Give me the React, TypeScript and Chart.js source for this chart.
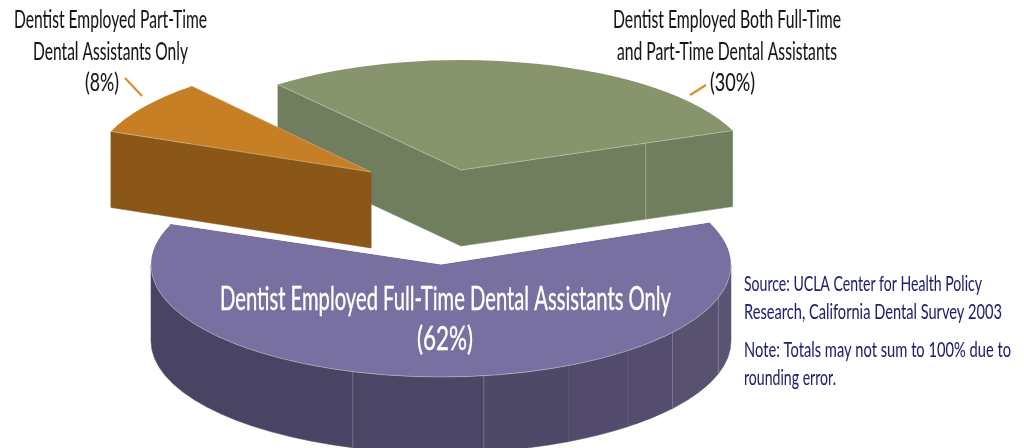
import { useEffect, useRef } from "react";
import { Chart, registerables } from "chart.js";

Chart.register(...registerables);

// Employment of dental assistants among surveyed dentists
const sliceNames = [
  "Dentist Employed Full-Time Dental Assistants Only",
  "Dentist Employed Part-Time Dental Assistants Only",
  "Dentist Employed Both Full-Time and Part-Time Dental Assistants",
];
const sliceShares = [62, 8, 30];

const topColours = ["#7870a0", "#c67f25", "#87946c"];
const wallColours = ["#4c4666", "#8b5718", "#717e5e"];

// Pie projection: the flat pie is squashed to an ellipse and extruded downwards
const PIE_X = 441;
const PIE_Y = 200;
const DEPTH = 76;
const ROTATION = 68;

// Per-slice projection radii and small extra turn, giving each slice its own perspective
const radiusX = [290, 279, 291];
const radiusY = [112, 112, 110];
const turnDeg = [0, 0, 1];

// Exploded position of each slice relative to the pie centre
const shiftX = [0, -70, 20];
const shiftY = [65, -28, -30];
const paintOrder = [2, 1, 0];

// Shaded panels along the rim of the large slice, in degrees around the ellipse
const rimStops = [0, 17, 37, 50, 64, 81.5, 107.7, 180];
const rimShades = ["#5b5374", "#585170", "#544d6e", "#524b6b", "#4f4968", "#4c4666", "#4a4464"];
const rimSeams = [17, 37, 81.5, 107.7];

type Caption = { text: string; x: number; base: number; width: number; size: number; colour: string; bold: number };

const INK = "#16161a";
const NAVY = "#20206e";
const captions: Caption[] = [
  { text: "Dentist Employed Part-Time", x: 14, base: 28, width: 193, size: 25, colour: INK, bold: 0.1 },
  { text: "Dental Assistants Only", x: 33, base: 60, width: 155, size: 25, colour: INK, bold: 0.1 },
  { text: "(8%)", x: 85, base: 91, width: 34, size: 25, colour: INK, bold: 0.1 },
  { text: "Dentist Employed Both Full-Time", x: 613, base: 28, width: 228, size: 25, colour: INK, bold: 0.1 },
  { text: "and Part-Time Dental Assistants", x: 617, base: 60, width: 220, size: 25, colour: INK, bold: 0.1 },
  { text: "(30%)", x: 710, base: 91, width: 45, size: 25, colour: INK, bold: 0.1 },
  { text: "Dentist Employed Full-Time Dental Assistants Only", x: 220, base: 310, width: 451, size: 32, colour: "#ffffff", bold: 0.4 },
  { text: "(62%)", x: 417, base: 350, width: 56, size: 32, colour: "#ffffff", bold: 0.4 },
  { text: "Source: UCLA Center for Health Policy", x: 744, base: 291, width: 238, size: 22, colour: NAVY, bold: 0.05 },
  { text: "Research, California Dental Survey 2003", x: 744, base: 319, width: 258, size: 22, colour: NAVY, bold: 0.05 },
  { text: "Note: Totals may not sum to 100% due to", x: 744, base: 357, width: 267, size: 22, colour: NAVY, bold: 0.05 },
  { text: "rounding error.", x: 744, base: 385, width: 92, size: 22, colour: NAVY, bold: 0.05 },
];

// Short leaders tying the two outer captions to their slices
const leaders = [
  [125, 78, 142, 96],
  [690, 95, 706, 85],
];

const rad = (deg: number) => (deg * Math.PI) / 180;

function quad(ctx: CanvasRenderingContext2D, a: number[], b: number[], colour: string) {
  ctx.beginPath();
  ctx.moveTo(a[0], a[1]);
  ctx.lineTo(b[0], b[1]);
  ctx.lineTo(b[0], b[1] + DEPTH);
  ctx.lineTo(a[0], a[1] + DEPTH);
  ctx.closePath();
  ctx.fillStyle = colour;
  ctx.fill();
  ctx.strokeStyle = colour;
  ctx.lineWidth = 0.5;
  ctx.stroke();
}

function rimBand(
  ctx: CanvasRenderingContext2D,
  cx: number,
  cy: number,
  rx: number,
  ry: number,
  from: number,
  to: number,
  colour: string
) {
  ctx.beginPath();
  ctx.ellipse(cx, cy, rx, ry, 0, from, to);
  ctx.ellipse(cx, cy + DEPTH, rx, ry, 0, to, from, true);
  ctx.closePath();
  ctx.fillStyle = colour;
  ctx.fill();
  ctx.strokeStyle = colour;
  ctx.lineWidth = 0.5;
  ctx.stroke();
}

const pie3d = {
  id: "pie3d",
  beforeDatasetsDraw(chart: Chart) {
    const ctx = chart.ctx;
    const arcs = chart.getDatasetMeta(0).data as any[];
    for (const i of paintOrder) {
      const arc = arcs[i];
      const { x, y, startAngle, endAngle, outerRadius } = arc.getProps(
        ["x", "y", "startAngle", "endAngle", "outerRadius"],
        true
      );
      const cx = PIE_X + shiftX[i];
      const cy = PIE_Y + shiftY[i];
      const rx = radiusX[i];
      const ry = radiusY[i];
      const turn = rad(turnDeg[i]);
      const from = startAngle + turn;
      const to = endAngle + turn;
      const at = (t: number) => [cx + rx * Math.cos(t), cy + ry * Math.sin(t)];
      const apex = [cx, cy];

      // Cut faces; the ones turned away end up hidden under the slice's own top
      quad(ctx, apex, at(from), wallColours[i]);
      quad(ctx, apex, at(to), wallColours[i]);

      // Curved outer wall, only for the part of the arc that faces the viewer
      const rimFrom = Math.max(from, 0);
      const rimTo = Math.min(to, Math.PI);
      if (rimTo > rimFrom) {
        rimShades.forEach((shade, k) => {
          const a = Math.max(rad(rimStops[k]), rimFrom);
          const b = Math.min(rad(rimStops[k + 1]), rimTo);
          if (b > a) rimBand(ctx, cx, cy, rx, ry, a, b, shade);
        });
        ctx.strokeStyle = "rgba(200,195,225,0.3)";
        ctx.lineWidth = 1;
        for (const seam of rimSeams) {
          const p = at(rad(seam));
          ctx.beginPath();
          ctx.moveTo(p[0], p[1]);
          ctx.lineTo(p[0], p[1] + DEPTH);
          ctx.stroke();
        }
      }

      // Top face: the library's own arc, pushed through the projection
      ctx.save();
      ctx.translate(cx, cy);
      ctx.scale(rx / outerRadius, ry / outerRadius);
      ctx.rotate(turn);
      ctx.translate(-x, -y);
      arc.draw(ctx);
      ctx.restore();

      // Pale highlight where the top meets the visible walls
      ctx.strokeStyle = "rgba(255,255,255,0.4)";
      ctx.lineWidth = 0.8;
      ctx.beginPath();
      if (rimTo > rimFrom) {
        ctx.ellipse(cx, cy, rx, ry, 0, rimFrom, rimTo);
      } else {
        const start = at(from);
        const end = at(to);
        ctx.moveTo(start[0], start[1]);
        ctx.lineTo(apex[0], apex[1]);
        ctx.lineTo(end[0], end[1]);
      }
      ctx.stroke();

      // Panel joint on the right-hand cut face of the green slice
      if (i === 2) {
        const end = at(to);
        const jx = apex[0] + (end[0] - apex[0]) * 0.68;
        const jy = apex[1] + (end[1] - apex[1]) * 0.68;
        ctx.strokeStyle = "rgba(220,225,200,0.45)";
        ctx.lineWidth = 1;
        ctx.beginPath();
        ctx.moveTo(jx, jy);
        ctx.lineTo(jx, jy + DEPTH);
        ctx.stroke();
      }
    }
    return false;
  },
  afterDraw(chart: Chart) {
    const ctx = chart.ctx;
    ctx.save();
    ctx.strokeStyle = "#e08c2e";
    ctx.lineWidth = 2.2;
    for (const [x1, y1, x2, y2] of leaders) {
      ctx.beginPath();
      ctx.moveTo(x1, y1);
      ctx.lineTo(x2, y2);
      ctx.stroke();
    }
    ctx.textBaseline = "alphabetic";
    ctx.textAlign = "left";
    for (const c of captions) {
      ctx.font = `${c.size}px Lato`;
      ctx.fillStyle = c.colour;
      ctx.strokeStyle = c.colour;
      ctx.lineWidth = c.bold;
      const natural = ctx.measureText(c.text).width;
      ctx.save();
      ctx.translate(c.x, c.base);
      ctx.scale(c.width / natural, 1);
      ctx.fillText(c.text, 0, 0);
      ctx.strokeText(c.text, 0, 0);
      ctx.restore();
    }
    ctx.restore();
  },
};

export default function App() {
  const canvasRef = useRef<HTMLCanvasElement>(null);

  useEffect(() => {
    document.body.style.margin = "0";
    const chart = new Chart(canvasRef.current!, {
      type: "pie",
      data: {
        labels: sliceNames,
        datasets: [
          {
            data: sliceShares,
            backgroundColor: topColours,
            borderWidth: 0,
          },
        ],
      },
      options: {
        responsive: false,
        animation: false,
        rotation: ROTATION,
        events: [],
        layout: { padding: 0 },
        plugins: { legend: { display: false }, tooltip: { enabled: false } },
      },
      plugins: [pie3d as any],
    });
    return () => chart.destroy();
  }, []);

  return <canvas ref={canvasRef} width={1024} height={448} style={{ display: "block" }} />;
}
